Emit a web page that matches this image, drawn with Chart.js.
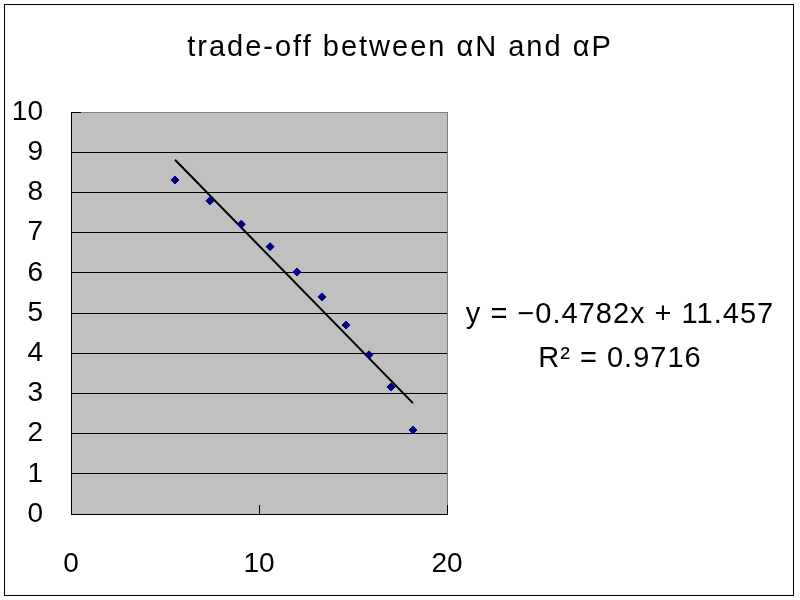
<!DOCTYPE html>
<html>
<head>
<meta charset="utf-8">
<script src="https://cdn.jsdelivr.net/npm/chart.js@4.4.1/dist/chart.umd.min.js"></script>
<style>
  html, body { margin: 0; padding: 0; background: #ffffff; }
  #wrap { width: 800px; height: 600px; position: relative; }
</style>
</head>
<body>
<div id="wrap"><canvas id="c" width="800" height="600"></canvas></div>
<script>
// ---- data ----
const titleText = 'trade-off between αN and αP';
const xValues = [5.53, 7.39, 9.06, 10.59, 12.02, 13.35, 14.63, 15.85, 17.02, 18.19];
const yValues = [8.31, 7.79, 7.21, 6.65, 6.02, 5.40, 4.70, 3.96, 3.16, 2.09];
const trendSlope = -0.4782;
const trendIntercept = 11.457;
const rSquared = 0.9716;
const equationLines = ['y = −0.4782x + 11.457', 'R² = 0.9716'];
const xTicks = [0, 10, 20];
const yTicks = [0, 1, 2, 3, 4, 5, 6, 7, 8, 9, 10];

const FONT = '"Liberation Sans", Arial, sans-serif';

const points = xValues.map((x, i) => ({ x: x, y: yValues[i] }));
const xMin = Math.min(...xValues), xMax = Math.max(...xValues);
const trendPoints = [xMin, xMax].map(x => ({ x: x, y: trendSlope * x + trendIntercept }));

const decor = {
  id: 'decor',
  beforeDraw(chart) {
    const { ctx, chartArea: a } = chart;
    ctx.save();
    ctx.fillStyle = '#ffffff';
    ctx.fillRect(0, 0, chart.width, chart.height);
    ctx.fillStyle = '#c0c0c0';
    ctx.fillRect(a.left, a.top, a.right - a.left, a.bottom - a.top);
    ctx.restore();
  },
  afterDraw(chart) {
    const { ctx, chartArea: a } = chart;
    const xs = chart.scales.x;
    ctx.save();
    // inner tick marks on x axis
    ctx.strokeStyle = '#000000';
    ctx.lineWidth = 1;
    xTicks.forEach(v => {
      const px = Math.round(xs.getPixelForValue(v)) + 0.5;
      ctx.beginPath();
      ctx.moveTo(px, a.bottom);
      ctx.lineTo(px, a.bottom - 9);
      ctx.stroke();
    });
    // top-left tick on y axis
    ctx.beginPath();
    ctx.moveTo(a.left, a.top + 0.5);
    ctx.lineTo(a.left + 10, a.top + 0.5);
    ctx.stroke();
    // outer border
    ctx.strokeStyle = '#000000';
    ctx.strokeRect(4.5, 4.5, 789, 591);
    // title
    ctx.fillStyle = '#000000';
    ctx.textAlign = 'center';
    ctx.textBaseline = 'alphabetic';
    ctx.font = '29px ' + FONT;
    ctx.letterSpacing = '2px';
    ctx.fillText(titleText, 400, 56);
    // equation
    ctx.font = '29px ' + FONT;
    ctx.letterSpacing = '1px';
    ctx.fillText(equationLines[0], 620, 323);
    ctx.fillText(equationLines[1], 620, 367);
    ctx.restore();
  }
};

new Chart(document.getElementById('c'), {
  type: 'scatter',
  data: {
    datasets: [
      {
        label: 'data',
        data: points,
        pointStyle: 'rectRot',
        pointRadius: 4,
        pointHoverRadius: 4,
        backgroundColor: '#000080',
        borderColor: '#000080',
        borderWidth: 1,
        showLine: false,
        order: 1
      },
      {
        label: 'trend',
        data: trendPoints,
        showLine: true,
        pointRadius: 0,
        borderColor: '#000000',
        borderWidth: 2,
        fill: false,
        order: 2
      }
    ]
  },
  options: {
    responsive: false,
    animation: false,
    events: [],
    layout: { padding: { left: 0, top: 112, right: 353, bottom: 0 } },
    plugins: {
      legend: { display: false },
      title: { display: false },
      tooltip: { enabled: false }
    },
    scales: {
      x: {
        type: 'linear',
        min: 0,
        max: 20,
        afterFit(scale) { scale.height = 86; },
        afterBuildTicks(scale) { scale.ticks = xTicks.map(v => ({ value: v })); },
        ticks: {
          color: '#000000',
          font: { family: FONT, size: 28 },
          padding: 33,
          maxRotation: 0
        },
        grid: {
          drawTicks: false,
          color: ctx => (ctx.tick && ctx.tick.value === 20) ? '#808080' : 'rgba(0,0,0,0)',
          lineWidth: 1
        },
        border: { display: true, color: '#000000', width: 1 }
      },
      y: {
        type: 'linear',
        min: 0,
        max: 10,
        afterFit(scale) { scale.width = 71; },
        afterBuildTicks(scale) { scale.ticks = yTicks.map(v => ({ value: v })); },
        ticks: {
          color: '#000000',
          font: { family: FONT, size: 28 },
          padding: 28
        },
        grid: {
          drawTicks: false,
          color: ctx => (ctx.tick && ctx.tick.value === 10) ? '#808080' : '#000000',
          lineWidth: 1
        },
        border: { display: true, color: '#000000', width: 1 }
      }
    }
  },
  plugins: [decor]
});
</script>
</body>
</html>
